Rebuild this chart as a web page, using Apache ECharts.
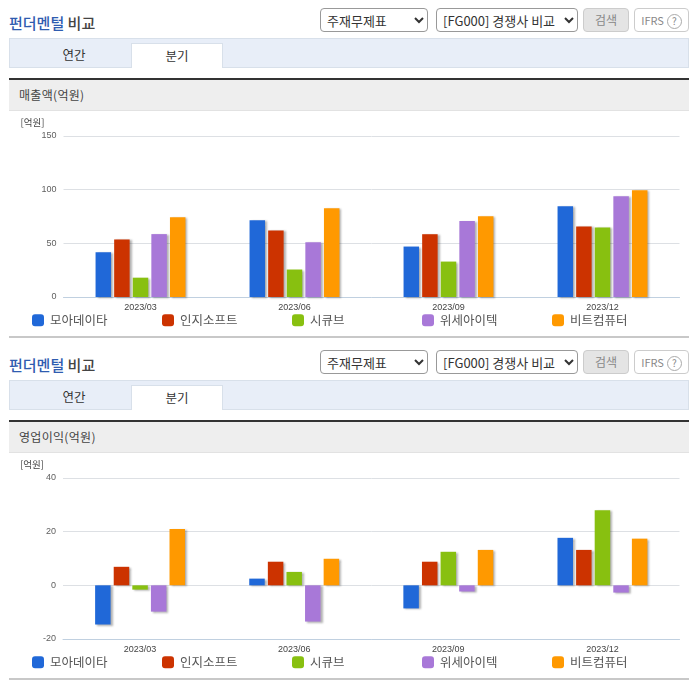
<!DOCTYPE html>
<html>
<head>
<meta charset="utf-8">
<script src="https://cdn.jsdelivr.net/npm/echarts@6/dist/echarts.min.js"></script>
<style>
html,body{margin:0;padding:0;background:#fff;}
body{width:696px;height:684px;position:relative;overflow:hidden;font-family:"Noto Sans CJK KR","Noto Sans",sans-serif;color:#444;}
.sec{position:absolute;left:0;width:696px;height:340px;}
.sec div,.sec select{position:absolute;box-sizing:border-box;}
.title{left:9px;top:12px;font-size:15px;line-height:22px;color:#444;font-weight:500;}
.title b{color:#2f5cb0;font-weight:500;}
select{height:24px;top:8px;background:#fff;border:1px solid #999;border-radius:4px;font-family:inherit;font-size:13px;color:#333;padding-left:2px;}
.btn{top:8px;height:24px;border:1px solid #ccc;border-radius:4px;font-size:12px;line-height:22px;text-align:center;color:#888;}
.btn span{display:inline-block;width:13px;height:13px;line-height:12px;border:1px solid #aaa;border-radius:50%;font-size:10px;margin-left:3px;}
.tabs{left:9px;top:38px;width:680px;height:30px;background:#e8eef8;border:1px solid #d8e0ea;}
.tab{top:43px;height:25px;font-size:12.5px;line-height:23px;text-align:center;color:#333;}
.on{background:#fff;border:1px solid #d8e0ea;border-bottom:0;}
.head{left:9px;top:78px;width:680px;height:33px;background:#eee;border-top:2px solid #333;border-bottom:1px solid #e2e2e2;font-size:12px;line-height:29px;padding-left:10px;color:#444;letter-spacing:.3px;}
.foot{left:9px;top:336px;width:680px;height:2px;background:#c8c8c8;}
.chart{left:0;top:111px;width:696px;height:224px;}
</style>
</head>
<body>
<script>
var categories = ['2023/03','2023/06','2023/09','2023/12'];
var companies = ['모아데이타','인지소프트','시큐브','위세아이텍','비트컴퓨터'];
var colors = ['#2068d8','#cc3300','#88c010','#a878d8','#ff9900'];

// 매출액
var sales1 = [41.7,71.6,47,84.6];
var sales2 = [53.6,62,58.5,65.7];
var sales3 = [18,25.6,33,64.8];
var sales4 = [58.6,51,70.7,93.9];
var sales5 = [74.4,82.8,75.3,99.5];

// 영업이익
var profit1 = [-14.6,2.5,-8.6,17.7];
var profit2 = [6.9,8.8,8.8,13.2];
var profit3 = [-1.6,5,12.5,28];
var profit4 = [-9.8,-13.5,-2.3,-2.7];
var profit5 = [21,9.9,13.2,17.4];

var sections = [
	{top:0, name:'매출액(억원)', id:'chart1'},
	{top:342, name:'영업이익(억원)', id:'chart2'}
];

sections.forEach(function(s){
	var el = document.createElement('div');
	el.className = 'sec';
	el.style.top = s.top + 'px';
	el.innerHTML =
		'<div class="title"><b>펀더멘털</b> 비교</div>'+
		'<select style="left:320px;width:108px"><option>주재무제표</option></select>'+
		'<select style="left:436px;width:142px"><option>[FG000] 경쟁사 비교</option></select>'+
		'<div class="btn" style="left:583px;width:46px;background:#e4e4e4">검색</div>'+
		'<div class="btn" style="left:634px;width:55px;font-size:11px">IFRS<span>?</span></div>'+
		'<div class="tabs"></div>'+
		'<div class="tab" style="left:9px;width:130px">연간</div>'+
		'<div class="tab on" style="left:131px;width:92px">분기</div>'+
		'<div class="head">'+s.name+'</div>'+
		'<div class="chart" id="'+s.id+'"></div>'+
		'<div class="foot"></div>';
	document.body.appendChild(el);
});

function makeOption(values, min, max, interval, gridLeft) {
	return {
		animation: false,
		textStyle: {fontFamily: '"Noto Sans CJK KR","Noto Sans",sans-serif'},
		grid: {left: gridLeft, right: 16.5, top: 25, height: 161},
		legend: companies.map(function(n, i){
			return {
				data: [n], left: 32 + 130*i, top: 203, padding: 0,
				icon: 'roundRect', itemWidth: 12, itemHeight: 12,
				textStyle: {fontSize: 12.5, color: '#555', padding: [0,0,0,1]}
			};
		}),
		xAxis: {
			type: 'category',
			data: categories,
			axisLine: {onZero: false, lineStyle: {color: '#c0d0e0'}},
			axisTick: {length: 5, lineStyle: {color: '#c0d0e0'}},
			axisLabel: {fontSize: 9, margin: 6, color: '#444', fontFamily: '"Liberation Sans",sans-serif'}
		},
		yAxis: {
			type: 'value',
			min: min, max: max, interval: interval,
			name: '[억원]',
			nameGap: 9,
			nameTextStyle: {fontSize: 9.5, color: '#444', align: 'left', padding: [0,0,0,-43]},
			axisLine: {show: false},
			axisTick: {show: false},
			splitLine: {lineStyle: {color: '#dde0e4'}},
			axisLabel: {fontSize: 9, margin: 7, color: '#606060', fontFamily: '"Liberation Sans",sans-serif'}
		},
		series: companies.map(function(n, i){
			return {
				name: n,
				type: 'bar',
				data: values[i],
				barWidth: 15.5,
				barGap: '20%',
				itemStyle: {
					color: colors[i],
					shadowColor: 'rgba(0,0,0,0.3)',
					shadowBlur: 2,
					shadowOffsetX: 2,
					shadowOffsetY: 1
				}
			};
		})
	};
}

var myChart1 = echarts.init(document.getElementById('chart1'));
myChart1.setOption(makeOption([sales1,sales2,sales3,sales4,sales5], 0, 150, 50, 63.5));

var myChart2 = echarts.init(document.getElementById('chart2'));
myChart2.setOption(makeOption([profit1,profit2,profit3,profit4,profit5], -20, 40, 20, 63));
</script>
</body>
</html>
